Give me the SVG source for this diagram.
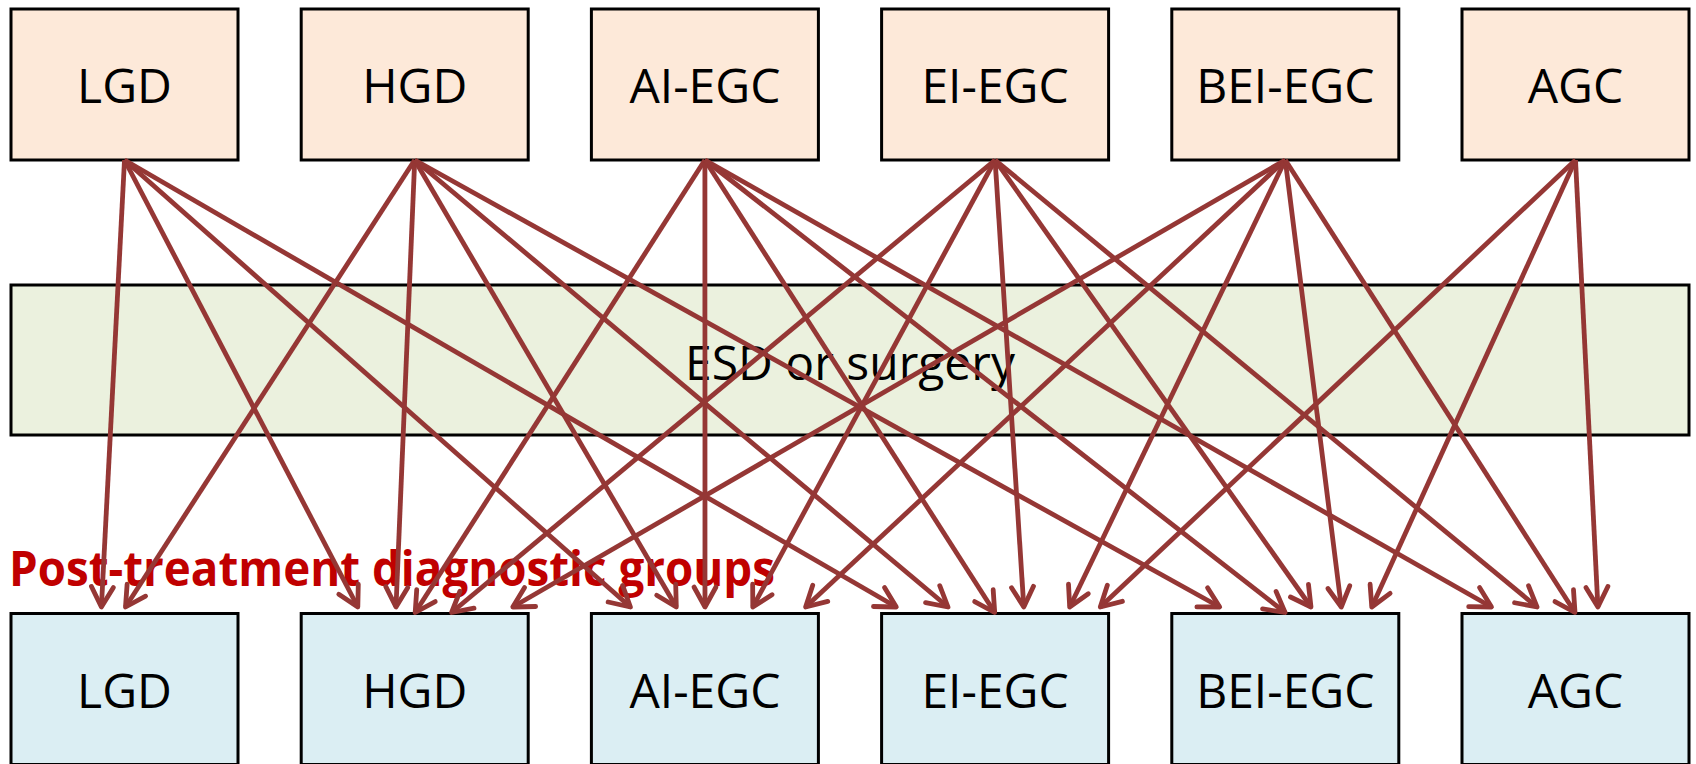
<svg xmlns="http://www.w3.org/2000/svg" width="1696" height="764" viewBox="0 0 1696 764">
  <style>
    .box { stroke: #000; stroke-width: 3; }
    .pre { fill: #FDE9D9; }
    .post { fill: #DBEEF3; }
    .band { fill: #EBF1DE; stroke: #000; stroke-width: 3; }
    .lbl { font-family: "Open Sans", "Noto Sans", "Liberation Sans", sans-serif; font-size: 48px; fill: #000; text-anchor: middle; }
    .title { font-family: "Open Sans", "Noto Sans", "Liberation Sans", sans-serif; font-size: 49px; font-weight: bold; fill: #C00000; }
    .arrow { stroke: #953735; stroke-width: 4.8; fill: none; marker-end: url(#open-arrow); }
  </style>
  <defs>
    <marker id="open-arrow" viewBox="0 0 30 26" refX="22" refY="13" markerWidth="30" markerHeight="26" markerUnits="userSpaceOnUse" orient="auto" overflow="visible">
      <path d="M2,2 L22,13 L2,24" fill="none" stroke="#953735" stroke-width="4.8" stroke-linecap="round" stroke-linejoin="round"/>
    </marker>
  </defs>

  <rect width="1696" height="764" fill="#fff"/>

  <!-- pre-treatment diagnoses -->
  <g id="pre-lgd"><rect class="box pre" x="11" y="9" width="227" height="151"/><text class="lbl" x="124.5" y="103">LGD</text></g>
  <g id="pre-hgd"><rect class="box pre" x="301.2" y="9" width="227" height="151"/><text class="lbl" x="414.7" y="103">HGD</text></g>
  <g id="pre-ai-egc"><rect class="box pre" x="591.4" y="9" width="227" height="151"/><text class="lbl" x="704.9" y="103">AI-EGC</text></g>
  <g id="pre-ei-egc"><rect class="box pre" x="881.6" y="9" width="227" height="151"/><text class="lbl" x="995.1" y="103">EI-EGC</text></g>
  <g id="pre-bei-egc"><rect class="box pre" x="1171.8" y="9" width="227" height="151"/><text class="lbl" x="1285.3" y="103">BEI-EGC</text></g>
  <g id="pre-agc"><rect class="box pre" x="1462" y="9" width="227" height="151"/><text class="lbl" x="1575.5" y="103">AGC</text></g>

  <!-- treatment band -->
  <g id="treatment"><rect class="band" x="11" y="285" width="1678" height="150"/><text class="lbl" x="850" y="380">ESD or surgery</text></g>

  <!-- post-treatment diagnoses -->
  <g id="post-lgd"><rect class="box post" x="11" y="613.5" width="227" height="151"/><text class="lbl" x="124.5" y="708">LGD</text></g>
  <g id="post-hgd"><rect class="box post" x="301.2" y="613.5" width="227" height="151"/><text class="lbl" x="414.7" y="708">HGD</text></g>
  <g id="post-ai-egc"><rect class="box post" x="591.4" y="613.5" width="227" height="151"/><text class="lbl" x="704.9" y="708">AI-EGC</text></g>
  <g id="post-ei-egc"><rect class="box post" x="881.6" y="613.5" width="227" height="151"/><text class="lbl" x="995.1" y="708">EI-EGC</text></g>
  <g id="post-bei-egc"><rect class="box post" x="1171.8" y="613.5" width="227" height="151"/><text class="lbl" x="1285.3" y="708">BEI-EGC</text></g>
  <g id="post-agc"><rect class="box post" x="1462" y="613.5" width="227" height="151"/><text class="lbl" x="1575.5" y="708">AGC</text></g>

  <g id="post-label"><text class="title" x="9" y="586" textLength="766" lengthAdjust="spacingAndGlyphs">Post-treatment diagnostic groups</text></g>

  <!-- transitions: pre-treatment group to post-treatment group -->
  <g id="connectors">
    <!-- from LGD -->
    <line class="arrow" x1="124.5" y1="160" x2="101.4" y2="607"/>
    <line class="arrow" x1="124.5" y1="160" x2="357.8" y2="607"/>
    <line class="arrow" x1="124.5" y1="160" x2="630.4" y2="607"/>
    <line class="arrow" x1="124.5" y1="160" x2="896.3" y2="607"/>
    <!-- from HGD -->
    <line class="arrow" x1="414.7" y1="160" x2="125.5" y2="607"/>
    <line class="arrow" x1="414.7" y1="160" x2="396" y2="607"/>
    <line class="arrow" x1="414.7" y1="160" x2="676.3" y2="607"/>
    <line class="arrow" x1="414.7" y1="160" x2="948" y2="607"/>
    <line class="arrow" x1="414.7" y1="160" x2="1219.7" y2="607"/>
    <!-- from AI-EGC -->
    <line class="arrow" x1="704.9" y1="160" x2="415.2" y2="612.5"/>
    <line class="arrow" x1="704.9" y1="160" x2="705" y2="607"/>
    <line class="arrow" x1="704.9" y1="160" x2="994.7" y2="612.5"/>
    <line class="arrow" x1="704.9" y1="160" x2="1285.1" y2="612.5"/>
    <line class="arrow" x1="704.9" y1="160" x2="1491.5" y2="607"/>
    <!-- from EI-EGC -->
    <line class="arrow" x1="995.1" y1="160" x2="451.6" y2="612.5"/>
    <line class="arrow" x1="995.1" y1="160" x2="752.8" y2="607"/>
    <line class="arrow" x1="995.1" y1="160" x2="1023.8" y2="607"/>
    <line class="arrow" x1="995.1" y1="160" x2="1311" y2="607"/>
    <line class="arrow" x1="995.1" y1="160" x2="1537" y2="607"/>
    <!-- from BEI-EGC -->
    <line class="arrow" x1="1285.3" y1="160" x2="512.8" y2="607"/>
    <line class="arrow" x1="1285.3" y1="160" x2="805.6" y2="607"/>
    <line class="arrow" x1="1285.3" y1="160" x2="1069.7" y2="607"/>
    <line class="arrow" x1="1285.3" y1="160" x2="1341.3" y2="607"/>
    <line class="arrow" x1="1285.3" y1="160" x2="1575" y2="612.5"/>
    <!-- from AGC -->
    <line class="arrow" x1="1575.5" y1="160" x2="1100.3" y2="607"/>
    <line class="arrow" x1="1575.5" y1="160" x2="1371.8" y2="607"/>
    <line class="arrow" x1="1575.5" y1="160" x2="1597.9" y2="607"/>
  </g>
</svg>
